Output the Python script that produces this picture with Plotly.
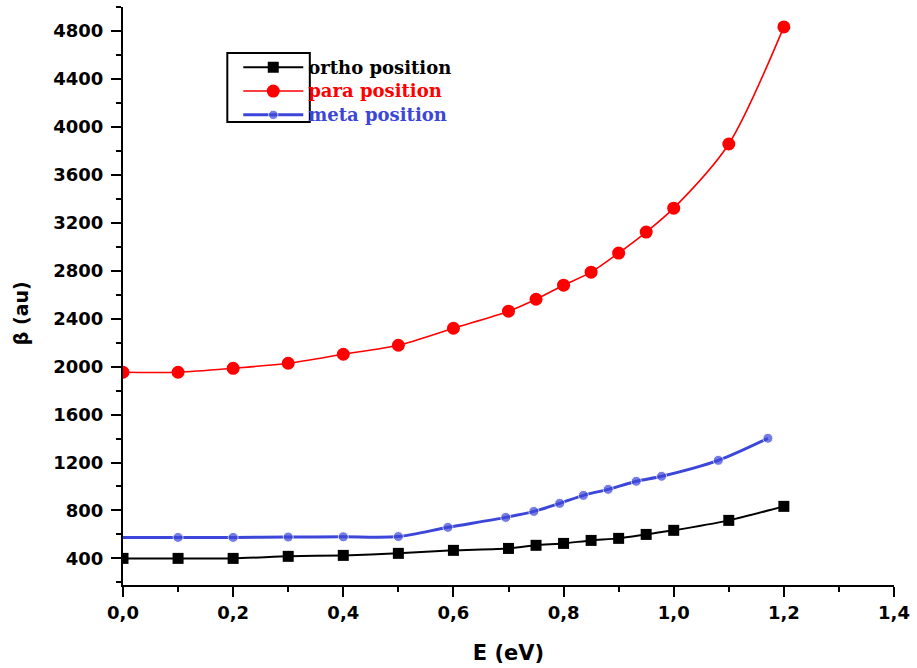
import plotly.graph_objects as go

# ---- data ----
E_ortho = [0.0, 0.1, 0.2, 0.3, 0.4, 0.5, 0.6, 0.7, 0.75, 0.8, 0.85, 0.9, 0.95, 1.0, 1.1, 1.2]
beta_ortho = [400, 400, 400, 417, 425, 442, 467, 483, 509, 525, 550, 567, 600, 634, 717, 834]

E_para = [0.0, 0.1, 0.2, 0.3, 0.4, 0.5, 0.6, 0.7, 0.75, 0.8, 0.85, 0.9, 0.95, 1.0, 1.1, 1.2]
beta_para = [1953, 1953, 1986, 2028, 2103, 2178, 2320, 2462, 2562, 2679, 2788, 2947, 3122, 3322, 3857, 4834]

E_meta = [0.0, 0.1, 0.2, 0.3, 0.4, 0.5, 0.59, 0.695, 0.746, 0.793, 0.836, 0.881, 0.932, 0.978, 1.081, 1.171]
beta_meta = [575, 575, 575, 578, 580, 582, 659, 742, 792, 859, 926, 976, 1043, 1085, 1218, 1402]

names = ["ortho position", "para position", "meta position"]
colors = ["#000000", "#ff0000", "#3c46d8"]

x_ticks = [0.0, 0.2, 0.4, 0.6, 0.8, 1.0, 1.2, 1.4]


def legend_name(name, color):
    return '<span style="color:%s;font-size:18px">%s</span>' % (color, name)


fig = go.Figure()

fig.add_trace(go.Scatter(
    x=E_ortho, y=beta_ortho, mode="lines+markers",
    name=legend_name(names[0], colors[0]),
    line=dict(color=colors[0], width=2, shape="spline", smoothing=0.6),
    marker=dict(symbol="square", size=11, color=colors[0]),
))
fig.add_trace(go.Scatter(
    x=E_para, y=beta_para, mode="lines+markers",
    name=legend_name(names[1], colors[1]),
    line=dict(color=colors[1], width=1.6, shape="spline", smoothing=0.8),
    marker=dict(symbol="circle", size=13, color=colors[1]),
))
meta_sizes = [0] + [10] * (len(E_meta) - 1)
fig.add_trace(go.Scatter(
    x=E_meta, y=beta_meta, mode="lines+markers",
    name=legend_name(names[2], colors[2]),
    line=dict(color=colors[2], width=3, shape="spline", smoothing=0.8),
    marker=dict(symbol="circle", size=meta_sizes, color=colors[2]),
))

tickfont = dict(family="DejaVu Sans", size=18, color="black", weight="bold")

fig.update_layout(
    width=917, height=668,
    margin=dict(l=123, r=18, t=7, b=83),
    paper_bgcolor="white", plot_bgcolor="white",
    separators=",.",
    showlegend=True,
    legend=dict(
        x=0.1495, y=0.925, xanchor="left", yanchor="top",
        bgcolor="rgba(0,0,0,0)", borderwidth=0,
        itemwidth=60,
        font=dict(family="DejaVu Serif", size=16, weight="bold"),
        tracegroupgap=0,
    ),
    xaxis=dict(
        range=[0, 1.4], tickvals=x_ticks, tickformat=".1f",
        showline=True, linecolor="black", linewidth=2,
        ticks="outside", ticklen=10, tickwidth=2, tickcolor="black",
        minor=dict(dtick=0.1, tick0=0, ticks="outside", ticklen=5, tickwidth=2, tickcolor="black", showgrid=False),
        showgrid=False, zeroline=False, tickfont=tickfont,
        title=dict(text="E (eV)", font=dict(family="DejaVu Sans", size=21, color="black", weight="bold"), standoff=24),
    ),
    yaxis=dict(
        range=[178, 5000], tick0=400, dtick=400,
        showline=True, linecolor="black", linewidth=2,
        ticks="outside", ticklen=10, tickwidth=2, tickcolor="black",
        minor=dict(dtick=200, tick0=200, ticks="outside", ticklen=5, tickwidth=2, tickcolor="black", showgrid=False),
        showgrid=False, zeroline=False, tickfont=tickfont,
        ticklabelstandoff=4,
    ),
    annotations=[dict(
        text="β (au)", xref="paper", yref="paper", x=-0.132, y=0.4706,
        textangle=-90, showarrow=False, xanchor="center", yanchor="middle",
        font=dict(family="DejaVu Sans", size=19, color="black", weight="bold"),
    )],
    shapes=[dict(
        type="rect", xref="paper", yref="paper",
        x0=0.1353, x1=0.2423, y0=0.801, y1=0.9204,
        line=dict(color="black", width=2), fillcolor="rgba(0,0,0,0)",
    )],
)

fig.write_html("out.html")
